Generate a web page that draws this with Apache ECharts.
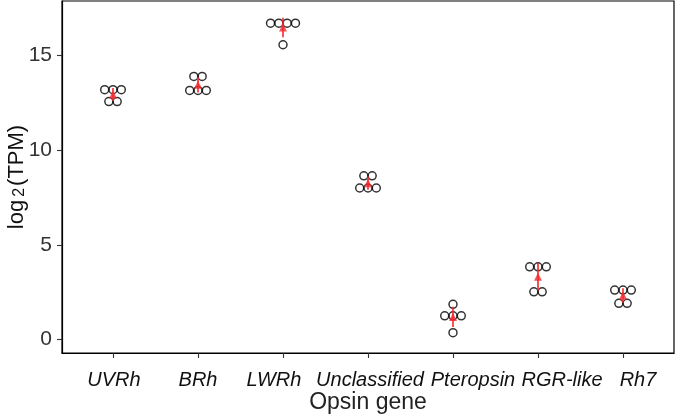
<!DOCTYPE html>
<html>
<head>
<meta charset="utf-8">
<script src="https://cdn.jsdelivr.net/npm/echarts@6/dist/echarts.min.js"></script>
<style>
html,body{margin:0;padding:0;background:#fff;}
#chart{width:685px;height:419px;}
</style>
</head>
<body>
<div id="chart"></div>
<script>
// Data (log2 TPM), five replicates per opsin gene
const categories = ['UVRh', 'BRh', 'LWRh', 'Unclassified', 'Pteropsin', 'RGR-like', 'Rh7'];
const valsUVRh = [13.19, 13.19, 13.19, 12.56, 12.56];
const valsBRh = [13.89, 13.89, 13.15, 13.15, 13.15];
const valsLWRh = [16.70, 16.70, 16.70, 16.70, 15.56];
const valsUnclassified = [8.64, 8.64, 8.00, 8.00, 8.00];
const valsPteropsin = [1.86, 1.25, 1.25, 1.25, 0.36];
const valsRGR = [3.84, 3.84, 3.84, 2.52, 2.52];
const valsRh7 = [2.61, 2.61, 2.61, 1.91, 1.91];
const yTicks = [0, 5, 10, 15];

const groups = [valsUVRh, valsBRh, valsLWRh, valsUnclassified, valsPteropsin, valsRGR, valsRh7];

// style: horizontal nudge (px) of each category label, as placed in the original figure
const LABEL_NUDGE = [1, 0, -9, 2, 20, 24, 15];

const DOT_STEP = 8.3; // px between stacked dots
const dotData = [];
const meanData = [];
const errData = [];
groups.forEach((vals, ci) => {
  // stack equal values side by side (dot plot)
  const bins = {};
  vals.forEach(v => { (bins[v] = bins[v] || []).push(v); });
  Object.keys(bins).forEach(k => {
    const arr = bins[k];
    const n = arr.length;
    arr.forEach((v, j) => {
      dotData.push({ value: [ci, v], symbolOffset: [(j - (n - 1) / 2) * DOT_STEP, 0] });
    });
  });
  const n = vals.length;
  const m = vals.reduce((a, b) => a + b, 0) / n;
  const sd = Math.sqrt(vals.reduce((a, b) => a + (b - m) * (b - m), 0) / (n - 1));
  meanData.push([ci, m]);
  errData.push([ci, m - sd, m + sd]);
});

const FONT = '"Liberation Sans", Arial, sans-serif';
const labelRich = {};
LABEL_NUDGE.forEach((d, i) => {
  labelRich['c' + i] = {
    fontFamily: FONT, fontSize: 20, fontStyle: 'italic', color: '#111',
    padding: d >= 0 ? [0, 0, 0, 2 * d] : [0, -2 * d, 0, 0]
  };
});

const chart = echarts.init(document.getElementById('chart'), null, { renderer: 'canvas' });
chart.setOption({
  animation: false,
  backgroundColor: '#ffffff',
  grid: { left: 62, right: 11, top: 1, bottom: 66, containLabel: false, outerBoundsMode: 'none', show: true, borderColor: '#000', borderWidth: 1.2, backgroundColor: 'transparent' },
  xAxis: {
    type: 'value',
    min: -0.6, max: 6.6,
    name: 'Opsin gene',
    nameLocation: 'middle',
    nameGap: 38,
    nameMoveOverlap: false,
    nameTextStyle: { fontFamily: FONT, fontSize: 23, color: '#222' },
    axisLine: { show: true, onZero: false, lineStyle: { color: '#000', width: 1.2 } },
    axisTick: { show: true, length: 5, customValues: [0, 1, 2, 3, 4, 5, 6], lineStyle: { color: '#333', width: 1.1 } },
    axisLabel: {
      customValues: [0, 1, 2, 3, 4, 5, 6],
      formatter: v => { const i = Math.round(v); return '{c' + i + '|' + (categories[i] || '') + '}'; },
      rich: labelRich,
      fontFamily: FONT, fontSize: 20, fontStyle: 'italic', color: '#111', margin: 17
    },
    splitLine: { show: false }
  },
  yAxis: {
    type: 'value',
    min: -0.71, max: 17.87,
    name: '{n|log}{s|2}{n|(TPM)}',
    nameLocation: 'middle',
    nameGap: 34,
    nameRotate: 90,
    nameMoveOverlap: false,
    nameTextStyle: {
      rich: {
        n: { fontFamily: FONT, fontSize: 22, color: '#111', lineHeight: 28, verticalAlign: 'bottom' },
        s: { fontFamily: FONT, fontSize: 16, color: '#111', lineHeight: 28, verticalAlign: 'bottom', padding: [0, 2, 0, 3] }
      }
    },
    axisLine: { show: true, onZero: false, lineStyle: { color: '#000', width: 1.2 } },
    axisTick: { show: true, length: 5, customValues: yTicks, lineStyle: { color: '#333', width: 1.1 } },
    axisLabel: { customValues: yTicks, fontFamily: FONT, fontSize: 21, color: '#333', margin: 10 },
    splitLine: { show: false }
  },
  series: [
    {
      type: 'scatter',
      data: dotData,
      symbol: 'circle',
      symbolSize: 8,
      itemStyle: { color: 'rgba(255,255,255,0)', borderColor: '#000', borderWidth: 1.5 },
      z: 2
    },
    {
      type: 'custom',
      data: errData,
      renderItem: function (params, api) {
        const top = api.coord([api.value(0), api.value(2)]);
        const bot = api.coord([api.value(0), api.value(1)]);
        return {
          type: 'line',
          shape: { x1: top[0], y1: top[1], x2: bot[0], y2: bot[1] },
          style: { stroke: '#f5282d', lineWidth: 1.6 }
        };
      },
      z: 3
    },
    {
      type: 'scatter',
      data: meanData,
      symbol: 'triangle',
      symbolSize: [8, 8],
      itemStyle: { color: '#f5282d' },
      z: 4
    }
  ]
});
</script>
</body>
</html>
